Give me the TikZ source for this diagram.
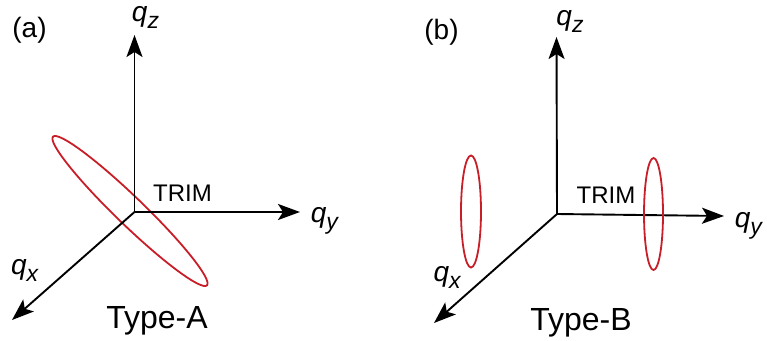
\documentclass[tikz,border=0pt]{standalone}
\usepackage{fontspec}
\setmainfont{Liberation Sans}
\usepackage{xcolor}
\usepackage{tikz}
\usetikzlibrary{arrows.meta}
\definecolor{ringred}{RGB}{200,30,40}
\newcommand{\qlab}[1]{\textit{q}\raisebox{-7pt}{\fontsize{23}{23}\selectfont\textit{#1}}}

\begin{document}
\begin{tikzpicture}[x=1pt,y=-1pt,
    axis/.style={line width=1.9pt, -{Stealth[length=22pt,width=16pt,inset=5pt]}},
    ring/.style={draw=ringred, line width=1.8pt},
    qtext/.style={inner sep=0pt, font=\fontsize{28}{28}\selectfont},
    trimtext/.style={inner sep=0pt, font=\fontsize{24}{24}\selectfont},
    typetext/.style={inner sep=0pt, anchor=base, font=\fontsize{32}{32}\selectfont},
    paneltext/.style={inner sep=0pt, font=\fontsize{28}{28}\selectfont}]
                \useasboundingbox (0,0) rectangle (767,340);

                % (a) ring through the TRIM
                \draw[ring, rotate around={-44:(130,211)}] (130,211) ellipse [x radius=107pt, y radius=14pt];

                % (a) Axes
                \coordinate (oA) at (134.5,212);
                \coordinate (zA) at (134.5,35);
                \coordinate (yA) at (300,212);
                \coordinate (xA) at (12,320);
                \draw[axis] (oA) -- (zA);
                \draw[axis] (oA) -- (yA);
                \draw[axis] (oA) -- (xA);
                \node[qtext] (qzA) at (145.5,17) {\qlab{z}};
                \node[qtext] (qyA) at (325,220.5) {\qlab{y}};
                \node[qtext] (qxA) at (25,270) {\qlab{x}};
                \node[trimtext] (trimA) at (182.5,193) {TRIM};
                \node[typetext] (typeA) at (157,328) {Type-A};
                \node[paneltext] (panelA) at (29.5,30.5) {(a)};

                % (b) Axes
                \coordinate (oB) at (557,214);
                \coordinate (zB) at (556.5,37);
                \coordinate (yB) at (724,216);
                \coordinate (xB) at (434,323);
                \draw[axis] (oB) -- (zB);
                \draw[axis] (oB) -- (yB);
                \draw[axis] (oB) -- (xB);
                \node[qtext] (qzB) at (570,21) {\qlab{z}};
                \node[qtext] (qyB) at (749,226) {\qlab{y}};
                \node[qtext] (qxB) at (447.5,277) {\qlab{x}};
                \node[trimtext] (trimB) at (606,195) {TRIM};
                \node[typetext] (typeB) at (581,330) {Type-B};
                \node[paneltext] (panelB) at (441.5,32) {(b)};

                % (b) rings off the TRIM
                \draw[ring] (471,211.5) ellipse [x radius=10pt, y radius=56pt];
                \draw[ring] (653.5,214) ellipse [x radius=9.5pt, y radius=56pt];
            \end{tikzpicture}
\end{document}
